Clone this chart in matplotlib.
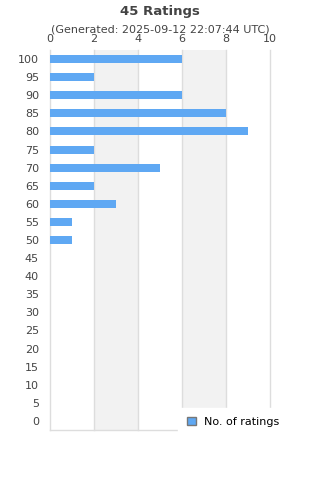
import matplotlib
matplotlib.use("Agg")
import matplotlib.pyplot as plt
from matplotlib.patches import Patch

categories = ["100", "95", "90", "85", "80", "75", "70", "65", "60", "55", "50",
              "45", "40", "35", "30", "25", "20", "15", "10", "5", "0"]
counts = [6, 2, 6, 8, 9, 2, 5, 2, 3, 1, 1, 0, 0, 0, 0, 0, 0, 0, 0, 0, 0]
xticks = [0, 2, 4, 6, 8, 10]
title = "45 Ratings"
subtitle = "(Generated: 2025-09-12 22:07:44 UTC)"
series_name = "No. of ratings"

bar_color = "#5fa8f3"
text_color = "#444444"
grid_color = "#dddddd"

fig = plt.figure(figsize=(3.2, 4.8), dpi=100)
ax = fig.add_axes([50/320, 1 - 430/480, 220/320, 380/480])

n = len(categories)
ypos = list(range(n))
ax.barh(ypos, counts, height=0.44, color=bar_color, zorder=3)
ax.set_ylim(n - 0.5, -0.5)
ax.set_xlim(0, 10)

# alternating bands
for i in range(len(xticks) - 1):
    if i % 2 == 1:
        ax.axvspan(xticks[i], xticks[i + 1], color="#f2f2f2", zorder=0, lw=0)
for xv in xticks[1:]:
    ax.axvline(xv, color=grid_color, lw=1, zorder=1, clip_on=False)

ax.set_yticks(ypos)
ax.set_yticklabels(categories)
ax.set_xticks(xticks)
ax.xaxis.tick_top()
ax.tick_params(axis="both", length=0, labelsize=8, colors=text_color)
ax.tick_params(axis="y", pad=8)
ax.tick_params(axis="x", pad=4)
for s in ["top", "right"]:
    ax.spines[s].set_visible(False)
for s in ["left", "bottom"]:
    ax.spines[s].set_color(grid_color)
    ax.spines[s].set_linewidth(1)

fig.text(0.5, 1 - 11/480, title, ha="center", va="center", fontsize=9.5,
         fontweight="bold", color=text_color)
fig.text(0.5, 1 - 29/480, subtitle, ha="center", va="center", fontsize=8,
         color=text_color)

handle = Patch(facecolor=bar_color, edgecolor="#777777", linewidth=1)
leg = fig.legend([handle], [series_name], loc="center left",
                 bbox_to_anchor=(178/320, 1 - 422/480), frameon=True,
                 fontsize=8, handlelength=0.8, handleheight=0.8,
                 borderpad=0.8, handletextpad=0.7, borderaxespad=0)
leg.get_frame().set_facecolor("white")
leg.get_frame().set_edgecolor("white")
leg.get_frame().set_alpha(1)
leg.get_frame().set_boxstyle("square", pad=0)
leg.set_zorder(10)

fig.savefig("out.png", dpi=100)
